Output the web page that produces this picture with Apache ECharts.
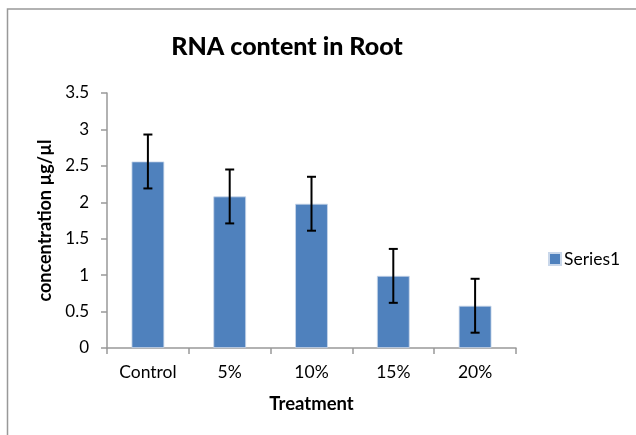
<!DOCTYPE html>
<html>
<head>
<meta charset="utf-8">
<script src="https://cdn.jsdelivr.net/npm/echarts@6/dist/echarts.min.js"></script>
<style>html,body{margin:0;padding:0;background:#fff}#c{width:636px;height:435px}</style>
</head>
<body>
<div id="c"></div>
<script>
const categories = ['Control', '5%', '10%', '15%', '20%'];
const values = [2.56, 2.08, 1.98, 0.99, 0.58];
const errors = [0.37, 0.37, 0.37, 0.37, 0.37];
const yTicks = { min: 0, max: 3.5, interval: 0.5 };

const FONT = 'Lato';
const chart = echarts.init(document.getElementById('c'), null, { renderer: 'canvas' });
const errData = categories.map((c, i) => [i, values[i] - errors[i], values[i] + errors[i]]);

chart.setOption({
  animation: false,
  title: {
    text: 'RNA content in Root',
    left: 282, top: 29, textAlign: 'center',
    textStyle: { fontFamily: FONT, fontWeight: 900, fontSize: 25, color: '#000' }
  },
  graphic: [{
    type: 'rect', silent: true,
    shape: { x: 7.5, y: 9, width: 700, height: 500 },
    style: { fill: 'none', stroke: '#999', lineWidth: 1.5 }
  }],
  legend: {
    data: ['Series1'], orient: 'vertical', left: 548, top: 250, padding: 0,
    itemWidth: 12, itemHeight: 12, itemGap: 4,
    textStyle: { fontFamily: FONT, fontSize: 17.5, color: '#000', padding: [0, 0, 0, -2] },
    icon: 'rect'
  },
  grid: { left: 107, right: 120, top: 93, bottom: 87, containLabel: false },
  xAxis: {
    type: 'category', data: categories,
    name: 'Treatment', nameLocation: 'middle', nameGap: 47,
    nameTextStyle: { fontFamily: FONT, fontWeight: 'bold', fontSize: 18.5, color: '#000' },
    axisLine: { lineStyle: { color: '#999', width: 1.5 } },
    axisTick: { show: true, alignWithLabel: false, length: 6, lineStyle: { color: '#999', width: 1.5 } },
    axisLabel: { fontFamily: FONT, fontSize: 17.5, color: '#000', margin: 15 }
  },
  yAxis: {
    type: 'value', min: yTicks.min, max: yTicks.max, interval: yTicks.interval,
    name: 'concentration µg/µl', nameLocation: 'middle', nameGap: 47,
    nameTextStyle: { fontFamily: FONT, fontWeight: 'bold', fontSize: 18, color: '#000' },
    axisLine: { show: true, lineStyle: { color: '#999', width: 1.5 } },
    axisTick: { show: true, length: 6, lineStyle: { color: '#999', width: 1.5 } },
    splitLine: { show: false },
    axisLabel: { fontFamily: FONT, fontSize: 17, color: '#000', margin: 18 }
  },
  series: [{
    name: 'Series1', type: 'bar', data: values, barWidth: '40%',
    itemStyle: { color: '#4F81BD', borderColor: '#C9D7EA', borderWidth: 0.8 }
  }, {
    name: 'err', type: 'custom', data: errData, z: 10,
    renderItem: function (params, api) {
      const x = api.value(0);
      const lo = api.coord([x, api.value(1)]);
      const hi = api.coord([x, api.value(2)]);
      const hw = 4.5;
      const st = { stroke: '#000', lineWidth: 2 };
      return {
        type: 'group', children: [
          { type: 'line', shape: { x1: lo[0], y1: lo[1], x2: hi[0], y2: hi[1] }, style: st },
          { type: 'line', shape: { x1: lo[0] - hw, y1: lo[1], x2: lo[0] + hw, y2: lo[1] }, style: st },
          { type: 'line', shape: { x1: hi[0] - hw, y1: hi[1], x2: hi[0] + hw, y2: hi[1] }, style: st }
        ]
      };
    }
  }]
});
</script>
</body>
</html>
